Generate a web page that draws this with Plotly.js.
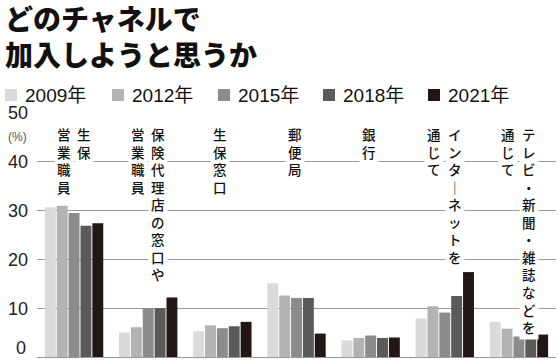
<!DOCTYPE html>
<html>
<head>
<meta charset="utf-8">
<script src="https://cdn.plot.ly/plotly-3.0.1.min.js"></script>
<style>html,body{margin:0;padding:0;background:#fff;}#chart{width:559px;height:360px;}</style>
</head>
<body>
<div id="chart"></div>
<script>
// ---- data ----
const categories = ["生保営業職員", "保険代理店の窓口や営業職員", "生保窓口", "郵便局", "銀行", "インターネットを通じて", "テレビ・新聞・雑誌などを通じて"];
// vertical label columns, right column first
const labelColumns = [
  ["生保", "営業職員"],
  ["保険代理店の窓口や", "営業職員"],
  ["生保窓口"],
  ["郵便局"],
  ["銀行"],
  ["インタ｜ネットを", "通じて"],
  ["テレビ・新聞・雑誌などを", "通じて"]
];
const years = ["2009年", "2012年", "2015年", "2018年", "2021年"];
const v2009 = [30.7, 5.0, 5.3, 15.1, 3.4, 7.9, 7.2];
const v2012 = [31.0, 6.1, 6.5, 12.6, 3.9, 10.4, 5.8];
const v2015 = [29.5, 10.0, 5.9, 12.1, 4.4, 9.1, 4.2];
const v2018 = [26.9, 10.0, 6.3, 12.1, 3.9, 12.5, 3.7];
const v2021 = [27.4, 12.2, 7.2, 4.8, 4.0, 17.4, 4.6];
const yTicks = [0, 10, 20, 30, 40, 50];

// ---- style ----
const series = [v2009, v2012, v2015, v2018, v2021];
const colors = ["#dadada", "#b3b3b3", "#8b8b8b", "#5a5a5a", "#221714"];
const W = 559, H = 360;
const M = {l: 37, r: 3, t: 113, b: 3};
const PW = W - M.l - M.r, PH = H - M.t - M.b;
const px2x = p => (p - M.l) / PW;
const py2y = p => (H - M.b - p) / PH;
const numFont = "Liberation Sans, Arial, Noto Sans CJK JP, sans-serif";
const jpFont = "Noto Sans CJK JP, sans-serif";

const idx = categories.map((c, i) => i);
const traces = series.map((vals, k) => ({
  type: "bar",
  x: idx,
  y: vals,
  name: years[k],
  customdata: categories,
  textposition: "none",
  marker: {color: colors[k], line: {width: 0}},
  hovertemplate: "%{customdata}: %{y}%<extra>" + years[k] + "</extra>",
  showlegend: false
}));

const annotations = [];
const shapes = [];

// manual legend
const legendLeft = [5, 112, 218, 323, 428];
years.forEach((yr, k) => {
  const x0 = legendLeft[k];
  shapes.push({type: "rect", xref: "paper", yref: "paper",
    x0: px2x(x0), x1: px2x(x0 + 12), y0: py2y(101), y1: py2y(89),
    fillcolor: colors[k], line: {width: 0}});
  annotations.push({xref: "paper", yref: "paper", x: px2x(x0 + 18), y: py2y(95),
    xanchor: "left", yanchor: "middle", showarrow: false, text: yr,
    font: {family: numFont, size: 19, color: "#111"}});
});

// (%) unit
annotations.push({xref: "paper", yref: "paper", x: px2x(17), y: py2y(137),
  xanchor: "center", yanchor: "middle", showarrow: false, text: "(%)",
  font: {family: numFont, size: 12, color: "#555"}});

// "0" axis label lifted so it stays inside the picture
annotations.push({xref: "paper", yref: "paper", x: px2x(28), y: py2y(360),
  xanchor: "right", yanchor: "bottom", showarrow: false, text: String(yTicks[0]),
  font: {family: numFont, size: 18, color: "#222"}});

// vertical category labels (one annotation per column)
const labelTopPx = 121;
labelColumns.forEach((cols, i) => {
  const offs = cols.length === 2 ? [10, -10.5] : [-2];
  cols.forEach((col, c) => {
    annotations.push({xref: "x", yref: "paper", x: i, xshift: offs[c],
      y: py2y(labelTopPx), xanchor: "center", yanchor: "top",
      showarrow: false, text: Array.from(col).join("<br>"), bgcolor: "#fff", borderpad: 2,
      font: {family: jpFont, size: 13.5, color: "#111", weight: 500}});
  });
});

const layout = {
  width: W, height: H,
  margin: M,
  paper_bgcolor: "#fff", plot_bgcolor: "#fff",
  title: {text: "どのチャネルで<br>加入しようと思うか", xref: "container", yref: "container",
    x: 5 / W, xanchor: "left", y: 1 - 30 / H, yanchor: "top",
    font: {family: jpFont, size: 28, color: "#111", weight: 900}},
  barmode: "group", bargap: 0.2, bargroupgap: 0.08,
  showlegend: false,
  xaxis: {range: [-0.5, 6.5], showticklabels: false, showgrid: false, zeroline: false,
    showline: false, ticks: "", fixedrange: true},
  yaxis: {range: [0, 50], tickvals: yTicks, ticktext: yTicks.map(v => v === 0 ? "" : String(v)),
    showgrid: true, gridcolor: "#9a9a9a", gridwidth: 1, zeroline: true, zerolinecolor: "#9a9a9a",
    zerolinewidth: 1, showline: false, ticks: "", ticklabelstandoff: 8,
    tickfont: {family: numFont, size: 18, color: "#222"}, fixedrange: true},
  annotations: annotations,
  shapes: shapes
};

Plotly.newPlot("chart", traces, layout, {displayModeBar: false, staticPlot: true});
</script>
</body>
</html>
